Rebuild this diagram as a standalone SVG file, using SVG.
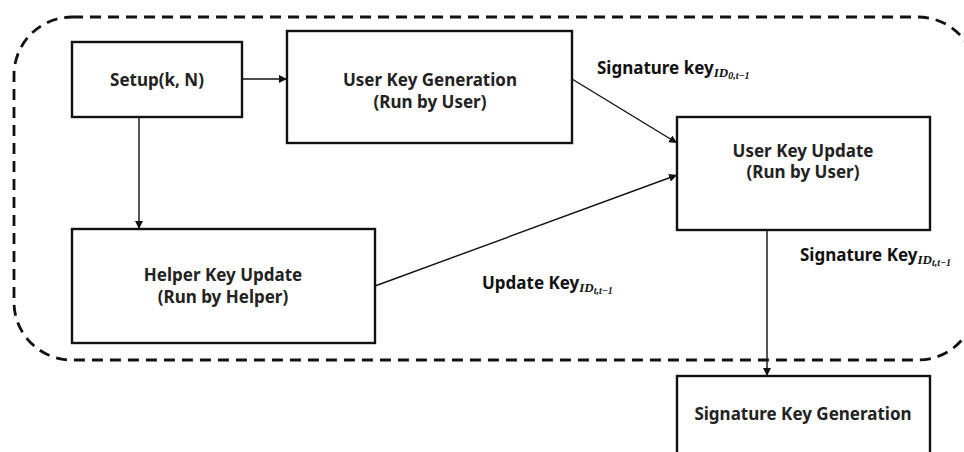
<svg xmlns="http://www.w3.org/2000/svg" width="964" height="452" viewBox="0 0 964 452">
<defs>
<marker id="ah" viewBox="0 0 10 10" refX="10" refY="5" markerWidth="8" markerHeight="8" markerUnits="userSpaceOnUse" orient="auto">
<path d="M0,0 L10,5 L0,10 z" fill="#111"/>
</marker>
<style>
.box{fill:#fff;stroke:#111;stroke-width:2.4}
.t{font-family:"Noto Sans","Open Sans",sans-serif;font-weight:bold;font-size:17px;fill:#222;text-anchor:middle}
.lbl{font-family:"Noto Sans","Open Sans",sans-serif;font-weight:bold;font-size:17px;fill:#111}
.sub{font-family:"Liberation Serif",serif;font-style:italic;font-weight:bold}
.c{fill:none;stroke:#111;stroke-width:1.4}
</style>
</defs>
<rect width="964" height="452" fill="#fff"/>
<rect id="boundary" x="14" y="17" width="962" height="343" rx="58" ry="58" fill="none" stroke="#111" stroke-width="2.8" stroke-dasharray="11,7"/>
<g id="setup"><rect class="box" x="72" y="42" width="170" height="75"/><text class="t" x="157" y="86">Setup(k, N)</text></g>
<g id="ukg"><rect class="box" x="287" y="31" width="285" height="112"/><text class="t" x="430" y="86">User Key Generation</text><text class="t" x="430" y="108">(Run by User)</text></g>
<g id="uku"><rect class="box" x="677" y="117" width="253" height="113"/><text class="t" x="803" y="157">User Key Update</text><text class="t" x="803" y="178">(Run by User)</text></g>
<g id="hku"><rect class="box" x="72" y="229" width="303" height="114"/><text class="t" x="223" y="281">Helper Key Update</text><text class="t" x="223" y="303">(Run by Helper)</text></g>
<g id="skg"><rect class="box" x="677" y="376" width="253" height="90"/><text class="t" x="803" y="420">Signature Key Generation</text></g>
<g id="connectors">
<line class="c" x1="242" y1="79" x2="287" y2="79" marker-end="url(#ah)"/>
<line class="c" x1="139" y1="117" x2="139" y2="229" marker-end="url(#ah)"/>
<line class="c" x1="572" y1="79" x2="677" y2="143" marker-end="url(#ah)"/>
<line class="c" x1="375" y1="286" x2="677" y2="175" marker-end="url(#ah)"/>
<line class="c" x1="767" y1="230" x2="767" y2="376" marker-end="url(#ah)"/>
</g>
<g id="labels">
<text class="lbl" x="597" y="74">Signature key<tspan class="sub" font-size="13" dy="3">ID</tspan><tspan class="sub" font-size="10" dy="2">0,t−1</tspan></text>
<text class="lbl" x="800" y="261">Signature Key<tspan class="sub" font-size="13" dy="3">ID</tspan><tspan class="sub" font-size="10" dy="2">t,t−1</tspan></text>
<text class="lbl" x="482" y="289">Update Key<tspan class="sub" font-size="13" dy="3">ID</tspan><tspan class="sub" font-size="10" dy="2">t,t−1</tspan></text>
</g>
</svg>
